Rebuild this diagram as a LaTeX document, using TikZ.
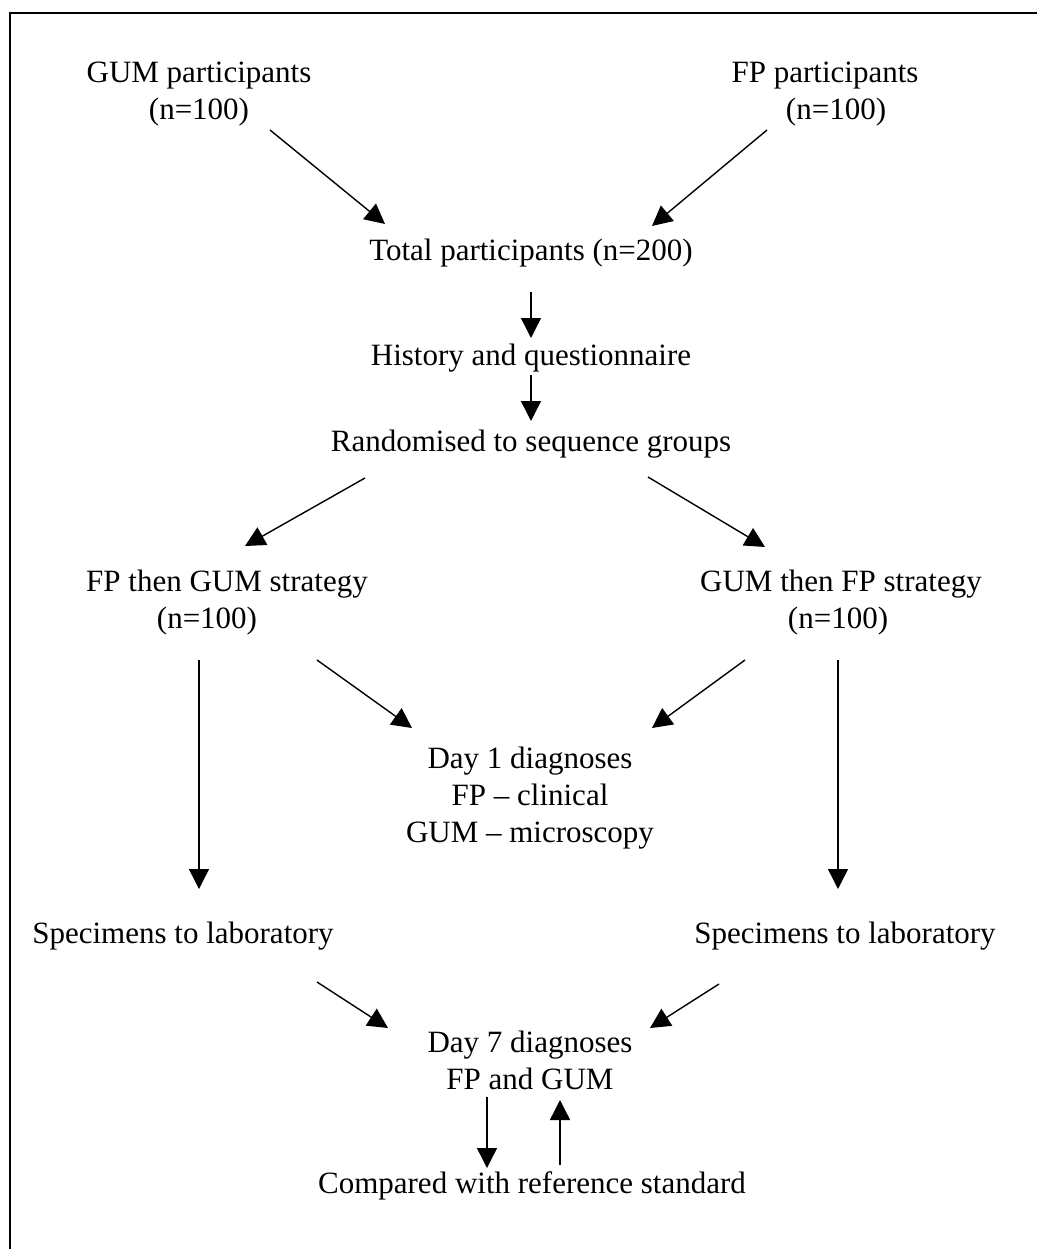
\documentclass[tikz,border=0pt]{standalone}
\usepackage{fontspec}
\setmainfont{Liberation Serif}
\usetikzlibrary{arrows.meta}
\setlength{\tabcolsep}{0pt}
\newcommand{\tl}[1]{\begin{tabular}[t]{@{}c@{}}#1\end{tabular}}
\begin{document}
\begin{tikzpicture}[x=1pt,y=-1pt,
  lbl/.style={anchor=base, inner sep=0pt, font=\fontsize{31}{37}\selectfont},
  arr/.style={line width=1.4pt, -{Triangle[length=20pt,width=20pt]}},
  frame/.style={line width=1.8pt}]
\useasboundingbox (0,0) rectangle (1037,1249);
\draw[frame] (10,1249) -- (10,13) -- (1037,13);

\node[lbl] (gum)   at (199,83)  {\tl{GUM participants\\(n=100)}};
\node[lbl] (fp)    at (825,83)  {\tl{FP participants\\\hspace*{22pt}(n=100)}};
\node[lbl] (total) at (531,260) {Total participants (n=200)};
\node[lbl] (hist)  at (531,365) {History and questionnaire};
\node[lbl] (rand)  at (531,451) {Randomised to sequence groups};
\node[lbl] (fpgum) at (227,591) {\tl{FP then GUM strategy\\(n=100)\hspace*{40pt}}};
\node[lbl] (gumfp) at (841,591) {\tl{GUM then FP strategy\\(n=100)\hspace*{6pt}}};
\node[lbl] (day1)  at (530,768) {\tl{Day 1 diagnoses\\FP -- clinical\\GUM -- microscopy}};
\node[lbl] (specL) at (183,943) {Specimens to laboratory};
\node[lbl] (specR) at (845,943) {Specimens to laboratory};
\node[lbl] (day7)  at (530,1052) {\tl{Day 7 diagnoses\\FP and GUM}};
\node[lbl] (comp)  at (532,1193) {Compared with reference standard};

\draw[arr] ([shift={(71,47)}]gum.base) -- ([shift={(-146,-36)}]total.base);
\draw[arr] ([shift={(-58,47)}]fp.base) -- ([shift={(121,-34)}]total.base);
\draw[arr] ([shift={(0,32)}]total.base) -- ([shift={(0,-27)}]hist.base);
\draw[arr] ([shift={(0,10)}]hist.base) -- ([shift={(0,-30)}]rand.base);
\draw[arr] ([shift={(-166,27)}]rand.base) -- ([shift={(18,-45)}]fpgum.base);
\draw[arr] ([shift={(117,26)}]rand.base) -- ([shift={(-76,-44)}]gumfp.base);
\draw[arr] ([shift={(90,69)}]fpgum.base) -- ([shift={(-118,-40)}]day1.base);
\draw[arr] ([shift={(-96,69)}]gumfp.base) -- ([shift={(122,-40)}]day1.base);
\draw[arr] ([shift={(-28,69)}]fpgum.base) -- ([shift={(16,-54)}]specL.base);
\draw[arr] ([shift={(-3,69)}]gumfp.base) -- ([shift={(-7,-54)}]specR.base);
\draw[arr] ([shift={(134,39)}]specL.base) -- ([shift={(-142,-24)}]day7.base);
\draw[arr] ([shift={(-126,41)}]specR.base) -- ([shift={(120,-24)}]day7.base);
\draw[arr] ([shift={(-43,45)}]day7.base) -- ([shift={(-45,-25)}]comp.base);
\draw[arr] ([shift={(28,-28)}]comp.base) -- ([shift={(30,48)}]day7.base);
\end{tikzpicture}
\end{document}
